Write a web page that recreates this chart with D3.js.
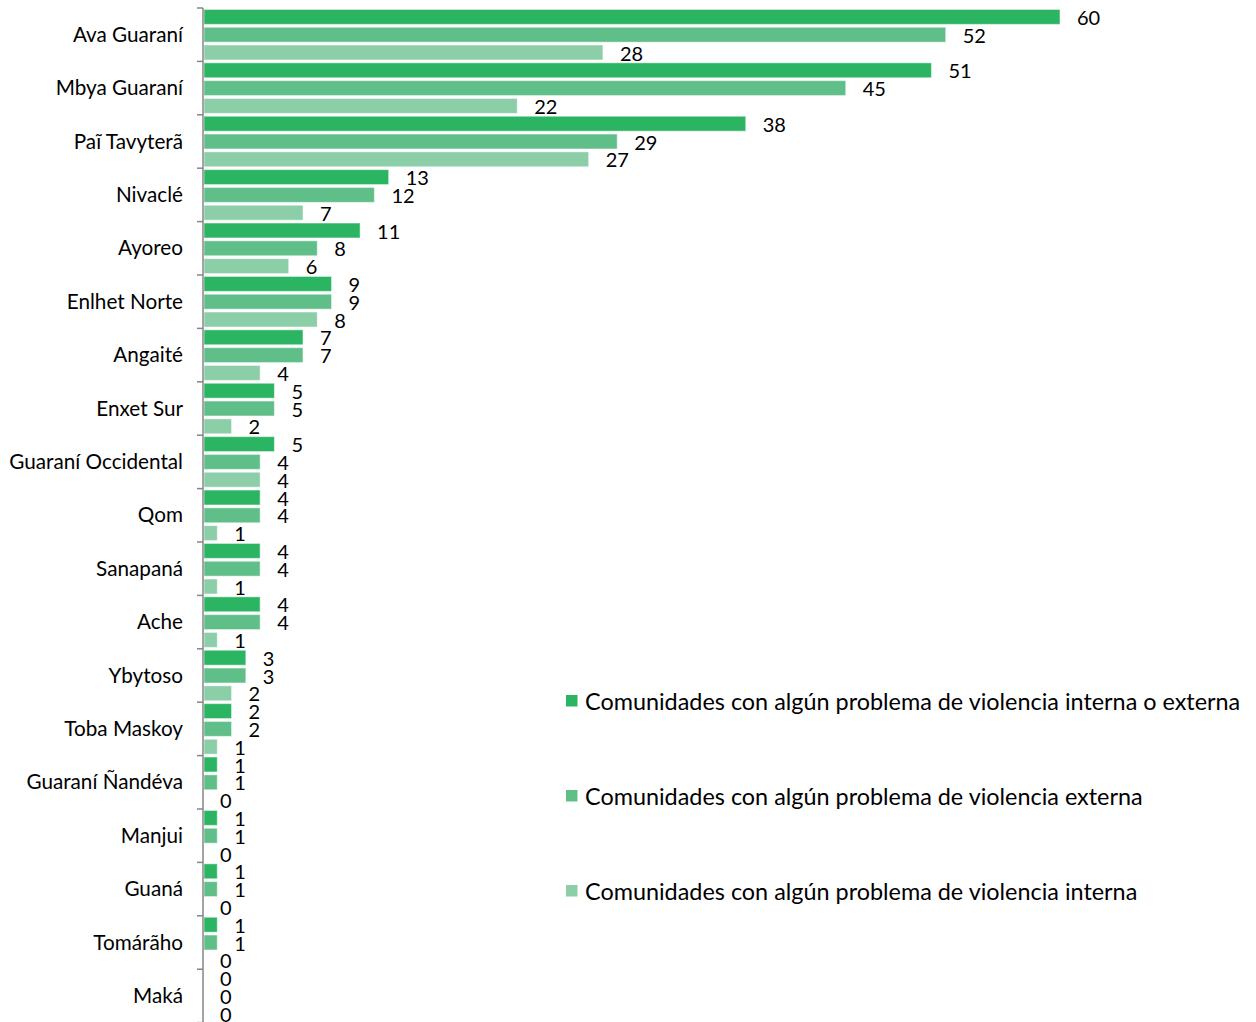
<!DOCTYPE html>
<html>
<head>
<meta charset="utf-8">
<script src="https://cdn.jsdelivr.net/npm/d3@7"></script>
<style>
  html, body { margin: 0; padding: 0; background: #fff; }
  svg { display: block; font-family: Lato, "Open Sans", sans-serif; }
</style>
</head>
<body>
<svg id="chart" width="1256" height="1022"></svg>
<script>
// Indigenous peoples, top to bottom
const categories = [
  "Ava Guaraní", "Mbya Guaraní", "Paĩ Tavyterã", "Nivaclé", "Ayoreo",
  "Enlhet Norte", "Angaité", "Enxet Sur", "Guaraní Occidental", "Qom",
  "Sanapaná", "Ache", "Ybytoso", "Toba Maskoy", "Guaraní Ñandéva",
  "Manjui", "Guaná", "Tomárãho", "Maká"
];

// Number of communities per people
const violenciaInternaOExterna = [60, 51, 38, 13, 11, 9, 7, 5, 5, 4, 4, 4, 3, 2, 1, 1, 1, 1, 0];
const violenciaExterna         = [52, 45, 29, 12, 8, 9, 7, 5, 4, 4, 4, 4, 3, 2, 1, 1, 1, 1, 0];
const violenciaInterna         = [28, 22, 27, 7, 6, 8, 4, 2, 4, 1, 1, 1, 2, 1, 0, 0, 0, 0, 0];

const seriesNames = [
  "Comunidades con algún problema de violencia interna o externa",
  "Comunidades con algún problema de violencia externa",
  "Comunidades con algún problema de violencia interna"
];
const seriesValues = [violenciaInternaOExterna, violenciaExterna, violenciaInterna];
const seriesColors = ["#2bb562", "#60bf89", "#8bcea7"];

const svg = d3.select("#chart");

const x = d3.scaleLinear().domain([0, 60]).range([203, 1060]);
const y = d3.scaleBand().domain(categories).range([8, 8 + 19 * 53.4]);
const ySub = d3.scaleBand().domain([0, 1, 2]).range([0, y.bandwidth()])
  .paddingInner(0.16).paddingOuter(0.08);

const rows = [];
categories.forEach((c, i) => {
  seriesValues.forEach((vals, s) => rows.push({ cat: c, s, v: vals[i] }));
});

// Bars
svg.append("g").selectAll("rect").data(rows).join("rect")
  .attr("x", x(0) + 1)
  .attr("y", d => y(d.cat) + ySub(d.s))
  .attr("width", d => Math.max(0, x(d.v) - x(0) - 1))
  .attr("height", ySub.bandwidth())
  .attr("fill", d => seriesColors[d.s])
  .attr("stroke", "#ffffff")
  .attr("stroke-opacity", 0.5)
  .attr("stroke-width", 1);

// Value labels
svg.append("g").selectAll("text").data(rows).join("text")
  .attr("x", d => x(d.v) + 17)
  .attr("y", d => y(d.cat) + ySub(d.s) + ySub.bandwidth() / 2)
  .attr("dominant-baseline", "central")
  .attr("font-size", 20)
  .attr("fill", "#000")
  .text(d => d.v);

// Category axis: vertical line with ticks at band boundaries
const bounds = categories.map(c => y(c)).concat([y.range()[1]]);
const axisG = svg.append("g");
axisG.append("line")
  .attr("x1", x(0)).attr("x2", x(0))
  .attr("y1", y.range()[0]).attr("y2", 1022)
  .attr("stroke", "#868686").attr("stroke-width", 1.5);
axisG.selectAll("line.tick").data(bounds).join("line")
  .attr("class", "tick")
  .attr("x1", x(0) - 6).attr("x2", x(0))
  .attr("y1", d => d).attr("y2", d => d)
  .attr("stroke", "#868686").attr("stroke-width", 1.5);

// Category labels
axisG.selectAll("text").data(categories).join("text")
  .attr("x", 183)
  .attr("y", c => y(c) + y.bandwidth() / 2 - 1)
  .attr("text-anchor", "end")
  .attr("dominant-baseline", "central")
  .attr("font-size", 20.7)
  .attr("fill", "#000")
  .text(c => c);

// Legend
const legend = svg.append("g");
const legendY = [701, 796, 891];
seriesNames.forEach((name, s) => {
  legend.append("rect")
    .attr("x", 566).attr("y", legendY[s] - 6)
    .attr("width", 11.5).attr("height", 11.5)
    .attr("fill", seriesColors[s]);
  legend.append("text")
    .attr("x", 585).attr("y", legendY[s] - 0.5)
    .attr("dominant-baseline", "central")
    .attr("font-size", 23.4)
    .attr("fill", "#000")
    .text(name);
});
</script>
</body>
</html>
